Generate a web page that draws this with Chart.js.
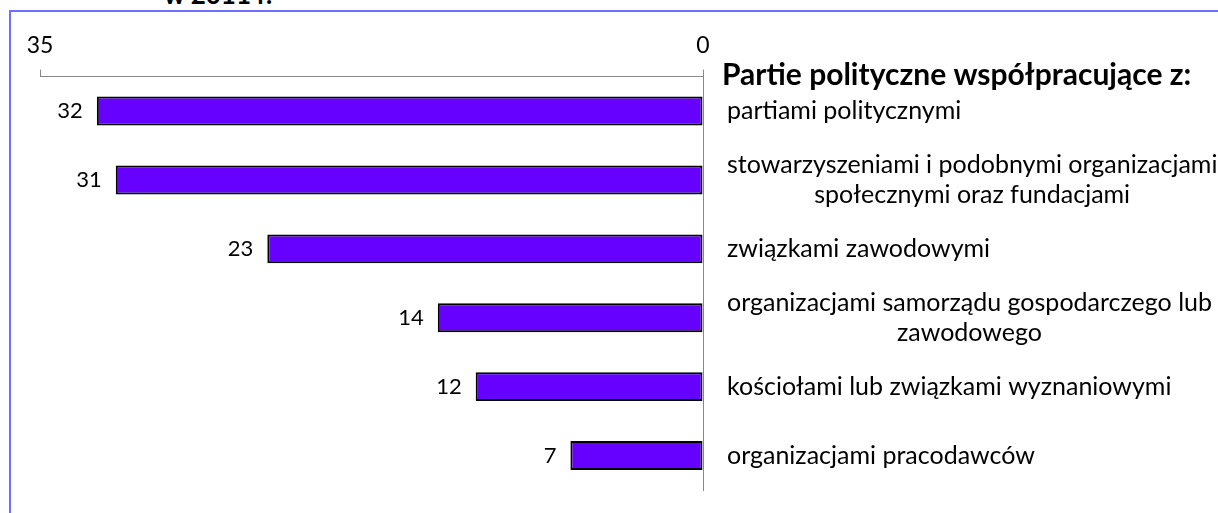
<!DOCTYPE html>
<html>
<head>
<meta charset="utf-8">
<script src="https://cdn.jsdelivr.net/npm/chart.js@4"></script>
<style>
    body { margin: 0; background: #fff; overflow: hidden; }
    #wrap { position: relative; width: 1218px; height: 513px; }
    #frame {
        position: absolute; left: 9px; top: 10px; width: 1400px; height: 700px;
        border-left: 2px solid #7070ff; border-top: 2px solid #7070ff;
    }
    #title {
        position: absolute; left: 164px; top: -22px;
        font: bold 26px Lato, sans-serif; color: #000; white-space: nowrap;
    }
    #chartBox { position: absolute; left: 0; top: 0; width: 1218px; height: 513px; }
</style>
</head>
<body>
<div id="wrap">
    <div id="frame"></div>
    <div id="title">w 2011 r.</div>
    <div id="chartBox"><canvas id="barChart"></canvas></div>
</div>
<script>
const categories = [
    ['partiami politycznymi'],
    ['stowarzyszeniami i podobnymi organizacjami', 'społecznymi oraz fundacjami'],
    ['związkami zawodowymi'],
    ['organizacjami samorządu gospodarczego lub', 'zawodowego'],
    ['kościołami lub związkami wyznaniowymi'],
    ['organizacjami pracodawców']
];
const values = [32, 31, 23, 14, 12, 7];
const axisMin = 0;
const axisMax = 35;
const headerText = 'Partie polityczne współpracujące z:';

const labelFont = '25px Lato, sans-serif';
const numberFont = '22px Lato, sans-serif';

const valueLabels = {
    id: 'valueLabels',
    afterDatasetsDraw(chart) {
        const ctx = chart.ctx;
        const meta = chart.getDatasetMeta(0);
        ctx.save();
        ctx.font = numberFont;
        ctx.fillStyle = '#000';
        ctx.textAlign = 'right';
        ctx.textBaseline = 'middle';
        meta.data.forEach((bar, i) => {
            ctx.fillText(String(values[i]), bar.x - 14, bar.y);
        });
        ctx.restore();
    }
};

const sideLabels = {
    id: 'sideLabels',
    afterDraw(chart) {
        const ctx = chart.ctx;
        const area = chart.chartArea;
        const yScale = chart.scales.y;
        const left = area.right + 24;
        ctx.save();
        ctx.fillStyle = '#000';
        ctx.textBaseline = 'middle';

        ctx.font = 'bold 30px Lato, sans-serif';
        ctx.textAlign = 'left';
        ctx.fillText(headerText, area.right + 19, area.top - 1);

        ctx.font = labelFont;
        ctx.textAlign = 'center';
        const lineGap = 30;
        categories.forEach((lines, i) => {
            const yc = yScale.getPixelForValue(i);
            const blockW = Math.max(...lines.map(l => ctx.measureText(l).width));
            const y0 = yc - (lines.length - 1) * lineGap / 2;
            lines.forEach((line, k) => {
                ctx.fillText(line, left + blockW / 2, y0 + k * lineGap);
            });
        });
        ctx.restore();
    }
};

new Chart(document.getElementById('barChart'), {
    type: 'bar',
    data: {
        labels: categories.map(c => c.join(' ')),
        datasets: [{
            data: values,
            backgroundColor: '#6600ff',
            borderColor: '#000',
            borderWidth: 2,
            borderSkipped: false,
            barPercentage: 0.42,
            categoryPercentage: 1
        }]
    },
    options: {
        indexAxis: 'y',
        responsive: true,
        maintainAspectRatio: false,
        animation: false,
        layout: { padding: { top: 22, left: 40, right: 515, bottom: 23 } },
        plugins: {
            legend: { display: false },
            tooltip: { enabled: false }
        },
        scales: {
            x: {
                position: 'top',
                reverse: true,
                min: axisMin,
                max: axisMax,
                ticks: {
                    stepSize: 35,
                    color: '#000',
                    padding: 10,
                    font: { family: 'Lato, sans-serif', size: 23 }
                },
                grid: { drawOnChartArea: false, tickLength: 7, color: '#888' },
                border: { color: '#888', width: 1 }
            },
            y: {
                position: 'right',
                ticks: { display: false },
                grid: { display: false, drawTicks: false },
                border: { color: '#888', width: 1 }
            }
        }
    },
    plugins: [valueLabels, sideLabels]
});
</script>
</body>
</html>
